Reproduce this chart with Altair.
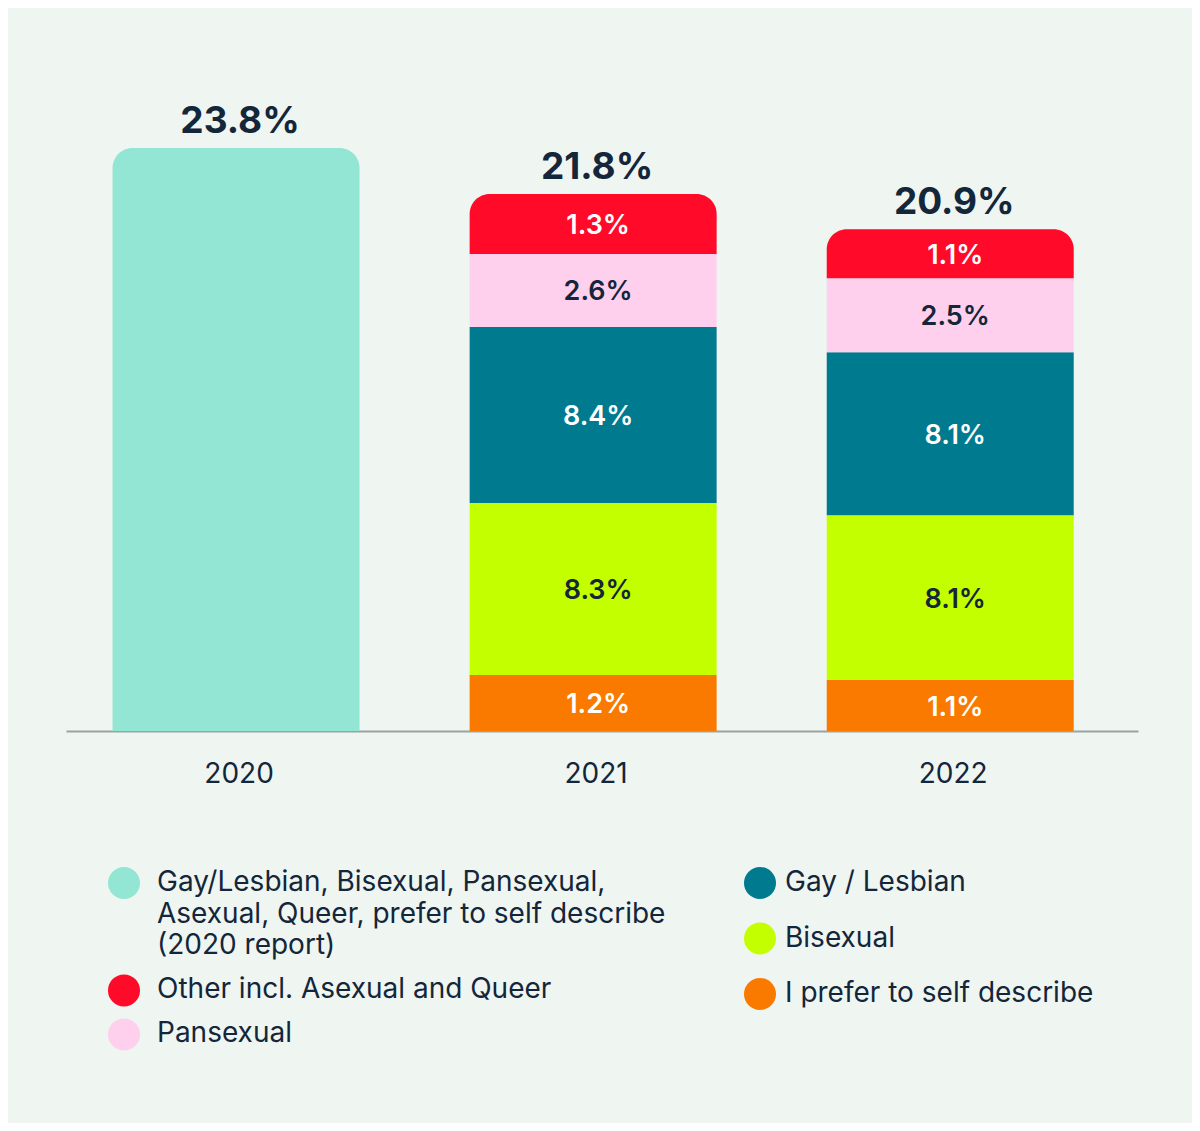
import altair as alt
import pandas as pd

# ---------------- data ----------------
years = ["2020", "2021", "2022"]
cat_2020 = "Gay/Lesbian, Bisexual, Pansexual, Asexual, Queer, prefer to self describe (2020 report)"
stack_categories = ["I prefer to self describe", "Bisexual", "Gay / Lesbian",
                    "Pansexual", "Other incl. Asexual and Queer"]
value_2020 = 23.8
values_2021 = [1.2, 8.3, 8.4, 2.6, 1.3]
values_2022 = [1.1, 8.1, 8.1, 2.5, 1.1]
totals = [23.8, 21.8, 20.9]
# segment lengths as drawn in the reference (the original is not to scale per segment)
drawn_2021 = [2.29, 7.02, 7.18, 2.98, 2.45]
drawn_2022 = [2.08, 6.73, 6.65, 3.02, 2.00]

legend_col1 = [cat_2020, "Other incl. Asexual and Queer", "Pansexual"]
legend_col2 = ["Gay / Lesbian", "Bisexual", "I prefer to self describe"]
legend_lines = {
    cat_2020: ["Gay/Lesbian, Bisexual, Pansexual,",
               "Asexual, Queer, prefer to self describe",
               "(2020 report)"],
}

# ---------------- styles ----------------
NAVY = "#13263a"
BG = "#eff5f1"
colors = {
    cat_2020: "#93e6d4",
    "Other incl. Asexual and Queer": "#ff0a28",
    "Pansexual": "#ffd0ee",
    "Gay / Lesbian": "#007a8e",
    "Bisexual": "#c4ff00",
    "I prefer to self describe": "#fa7a00",
}
label_colors = {
    "Other incl. Asexual and Queer": "#ffffff",
    "Pansexual": NAVY,
    "Gay / Lesbian": "#ffffff",
    "Bisexual": NAVY,
    "I prefer to self describe": "#ffffff",
}
FONT = "Inter"
W, H = 1072, 637

# ---------------- tables ----------------
seg_rows = []
seg_rows.append(dict(year="2020", cat=cat_2020, y0=0.0, y1=value_2020,
                     label="", top=True, fill=colors[cat_2020], tcolor=NAVY))
for yr, vals, drawn in [("2021", values_2021, drawn_2021), ("2022", values_2022, drawn_2022)]:
    base = 0.0
    for i, (c, v, d) in enumerate(zip(stack_categories, vals, drawn)):
        seg_rows.append(dict(year=yr, cat=c, y0=base, y1=base + d,
                             label=f"{v}%", top=(i == len(stack_categories) - 1),
                             fill=colors[c], tcolor=label_colors[c]))
        base += d
seg = pd.DataFrame(seg_rows)
seg["ymid"] = (seg["y0"] + seg["y1"]) / 2

tops = seg.groupby("year")["y1"].max().reindex(years).tolist()
tot = pd.DataFrame({"year": years, "ytop": tops, "label": [f"{t}%" for t in totals]})

# legend layout (pixel positions inside plot group)
LEG_TOP = 789
LINE_H = 31.7
STEPS = [44, 55.5]
COL_X = [58, 694]
TEXT_DX = [33, 25]
leg_sym, leg_txt = [], []
for ci, col in enumerate([legend_col1, legend_col2]):
    y = LEG_TOP
    for c in col:
        lines = legend_lines.get(c, [c])
        leg_sym.append(dict(px=COL_X[ci], py=y, fill=colors[c]))
        for li, t in enumerate(lines):
            leg_txt.append(dict(px=COL_X[ci] + TEXT_DX[ci], py=y + li * LINE_H, text=t))
        y += (len(lines) - 1) * LINE_H + STEPS[ci]
leg_sym = pd.DataFrame(leg_sym)
leg_txt = pd.DataFrame(leg_txt)

# ---------------- chart ----------------
xscale = alt.Scale(domain=years, paddingInner=0.308, paddingOuter=0.155, align=0.42)
yscale = alt.Scale(domain=[0, 26], nice=False)

x_axis = alt.Axis(title=None, labelAngle=0, ticks=False, labelFont=FONT, labelFontSize=28,
                  labelColor=NAVY, labelPadding=29, labelOffset=3,
                  domainColor="#9aa4a3", domainWidth=2, grid=False)
x_enc = alt.X("year:N", scale=xscale, axis=x_axis)

base = alt.Chart(seg)

mid_bars = base.transform_filter("!datum.top").mark_bar(size=247).encode(
    x=x_enc,
    y=alt.Y("y0:Q", scale=yscale, axis=None),
    y2="y1:Q",
    fill=alt.Fill("fill:N", scale=None),
)
top_bars = base.transform_filter("datum.top").mark_bar(
    size=247, cornerRadiusTopLeft=20, cornerRadiusTopRight=20).encode(
    x=x_enc,
    y=alt.Y("y0:Q", scale=yscale, axis=None),
    y2="y1:Q",
    fill=alt.Fill("fill:N", scale=None),
)
seg_text = base.transform_filter("datum.label != ''").mark_text(
    font=FONT, fontSize=27, fontWeight=600, baseline="middle", align="center",
    dx=5, dy=2).encode(
    x=x_enc,
    y=alt.Y("ymid:Q", scale=yscale, axis=None),
    text="label:N",
    color=alt.Color("tcolor:N", scale=None),
)
tot_text = alt.Chart(tot).mark_text(
    font=FONT, fontSize=37, fontWeight=700, baseline="alphabetic", align="center",
    dx=4, dy=-15, color=NAVY).encode(
    x=x_enc,
    y=alt.Y("ytop:Q", scale=yscale, axis=None),
    text="label:N",
)

main = alt.layer(mid_bars, top_bars, seg_text, tot_text)

leg_points = alt.Chart(leg_sym).mark_circle(size=1024, opacity=1).encode(
    x=alt.X("px:Q", scale=None, axis=None),
    y=alt.Y("py:Q", scale=None, axis=None),
    fill=alt.Fill("fill:N", scale=None),
)
leg_labels = alt.Chart(leg_txt).mark_text(
    font=FONT, fontSize=28, align="left", baseline="middle", color=NAVY).encode(
    x=alt.X("px:Q", scale=None, axis=None),
    y=alt.Y("py:Q", scale=None, axis=None),
    text="text:N",
)
legend = alt.layer(leg_points, leg_labels)

chart = alt.layer(main, legend).resolve_scale(x="independent", y="independent").properties(
    width=W, height=H,
    background=BG,
    padding={"left": 58, "top": 86, "right": 54, "bottom": 392},
    autosize=alt.AutoSizeParams(type="none"),
).configure_view(stroke=None)

chart.save("out.html", embed_options={"renderer": "svg", "actions": False})
